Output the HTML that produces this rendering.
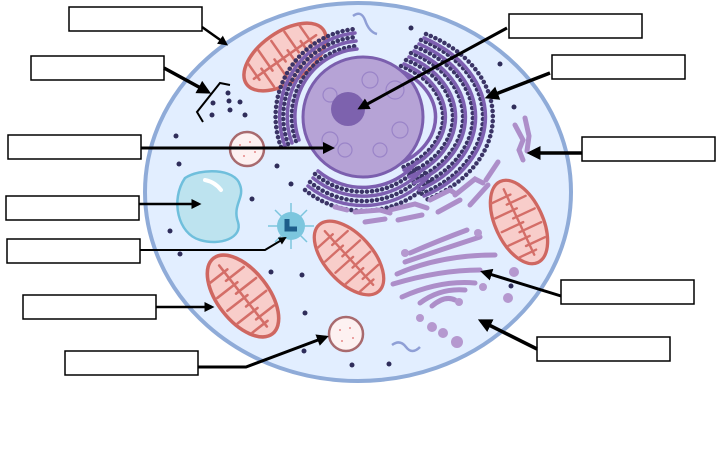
<!DOCTYPE html>
<html><head><meta charset="utf-8"><style>html,body{margin:0;padding:0;background:#fff;width:720px;height:465px;overflow:hidden}</style></head>
<body>
<svg width="720" height="465" viewBox="0 0 720 465" xmlns="http://www.w3.org/2000/svg">
<defs>
<g id="mito">
<ellipse cx="0" cy="0" rx="25" ry="47" fill="#f8cdca" stroke="#cf6761" stroke-width="3.5"/>
<g stroke="#d46e68" stroke-width="2.5" fill="none" stroke-linecap="round">
<path d="M-18,-30 L4,-30 M18,-22 L-4,-22 M-21,-14 L4,-14 M21,-6 L-4,-6 M-21,2 L4,2 M21,10 L-4,10 M-21,18 L4,18 M18,26 L-4,26 M-15,34 L4,34 M0,-38 L0,38"/>
</g>
</g>
<marker id="ah" markerWidth="4" markerHeight="4" refX="3" refY="2" orient="auto" markerUnits="strokeWidth"><path d="M0,0 L4,2 L0,4 z" fill="#000"/></marker>
</defs>
<ellipse cx="358" cy="192" rx="213" ry="189" fill="#e2eeff" stroke="#8fabd8" stroke-width="4"/>
<g fill="#2f2d5a">
<circle cx="411" cy="28" r="2.5"/><circle cx="500" cy="64" r="2.5"/><circle cx="514" cy="107" r="2.5"/><circle cx="176" cy="136" r="2.5"/><circle cx="179" cy="164" r="2.5"/><circle cx="277" cy="166" r="2.5"/><circle cx="291" cy="184" r="2.5"/><circle cx="252" cy="199" r="2.5"/><circle cx="170" cy="231" r="2.5"/><circle cx="180" cy="254" r="2.5"/><circle cx="271" cy="272" r="2.5"/><circle cx="302" cy="275" r="2.5"/><circle cx="305" cy="313" r="2.5"/><circle cx="304" cy="351" r="2.5"/><circle cx="352" cy="365" r="2.5"/><circle cx="389" cy="364" r="2.5"/><circle cx="511" cy="286" r="2.5"/>
<circle cx="213" cy="103" r="2.5"/><circle cx="229" cy="101" r="2.5"/><circle cx="240" cy="102" r="2.5"/><circle cx="228" cy="93" r="2.5"/><circle cx="212" cy="115" r="2.5"/><circle cx="245" cy="115" r="2.5"/><circle cx="230" cy="110" r="2.5"/>
</g>
<path d="M353,16 q8,-6 12,4 q4,12 12,14" stroke="#8f9fd6" stroke-width="2.5" fill="none"/>
<path d="M392,345 q8,-6 14,2 q6,8 14,0" stroke="#8f9fd6" stroke-width="2.5" fill="none"/>
<use href="#mito" transform="translate(285,57) rotate(55)"/>
<use href="#mito" transform="translate(519,222) rotate(-25) scale(0.95)"/>
<use href="#mito" transform="translate(349,258) rotate(-42) scale(0.95)"/>
<use href="#mito" transform="translate(243,296) rotate(-38) scale(1.02)"/>
<!-- rough ER -->
<g fill="none" stroke-linecap="round">
<g stroke="#3b3466" stroke-width="4.5" stroke-dasharray="0.1 5">
<path d="M401,66 A76,57 0 0 1 401,168"/><path d="M406,60 A86,64 0 0 1 406,174"/><path d="M411,53 A96,72 0 0 1 411,181"/><path d="M416,47 A106,79 0 0 1 416,187"/><path d="M421,40 A116,87 0 0 1 421,194"/><path d="M426,34 A126,94 0 0 1 426,200"/>
<path d="M296,141 A71,71 0 0 1 357,46"/><path d="M288,144 A80,80 0 0 1 356,37"/><path d="M281,147 A88,88 0 0 1 355,29"/>
<path d="M315,174 A74,74 0 0 0 420,165"/><path d="M310,182 A83,83 0 0 0 426,172"/><path d="M305,190 A92,92 0 0 0 432,180"/>
</g>
<g stroke="#7d5fb0" stroke-width="3.5">
<path d="M399,70 A72,54 0 0 1 399,164"/><path d="M404,64 A82,61 0 0 1 404,170"/><path d="M409,57 A92,69 0 0 1 409,177"/><path d="M414,51 A102,76 0 0 1 414,183"/><path d="M419,44 A112,84 0 0 1 419,190"/><path d="M424,38 A122,91 0 0 1 424,196"/>
<path d="M299,140 A68,68 0 0 1 357,49"/><path d="M292,143 A76,76 0 0 1 356,41"/><path d="M285,146 A84,84 0 0 1 355,33"/>
<path d="M318,171 A70,70 0 0 0 417,162"/><path d="M313,178 A79,79 0 0 0 423,169"/><path d="M308,186 A88,88 0 0 0 429,176"/>
</g>
</g>
<circle cx="363" cy="117" r="60" fill="#b6a3d6" stroke="#7b5fae" stroke-width="3"/>
<g fill="none" stroke="#9a84c8" stroke-width="1.2">
<circle cx="330" cy="140" r="8"/><circle cx="345" cy="150" r="7"/><circle cx="395" cy="90" r="9"/><circle cx="400" cy="130" r="8"/><circle cx="380" cy="150" r="7"/><circle cx="330" cy="95" r="7"/><circle cx="370" cy="80" r="8"/>
</g>
<circle cx="348" cy="109" r="17" fill="#7d62ae"/>
<g fill="none" stroke="#ad8ec9" stroke-width="5" stroke-linecap="round">
<path d="M335,207 l12,3"/><path d="M355,212 l25,-2 l10,3"/><path d="M365,222 l20,-3"/><path d="M390,210 l25,-6 l12,4"/><path d="M398,220 l24,-5"/><path d="M430,200 l20,-10 l6,4"/><path d="M438,212 l22,-12"/><path d="M455,195 l20,-16 l8,4"/><path d="M470,205 l18,-20"/><path d="M486,180 l12,-18"/>
<path d="M515,125 l8,15 l-4,10 l4,10"/><path d="M525,118 l4,18 l-2,15"/>
<path d="M397,274 Q440,255 495,255"/><path d="M405,262 Q440,250 480,237"/><path d="M393,284 Q440,270 480,270"/><path d="M402,297 Q440,280 475,283"/><path d="M420,303 Q440,288 465,290"/><path d="M432,306 Q445,295 455,300"/><path d="M410,253 Q440,240 467,230"/>
</g>
<g fill="#b598cf">
<circle cx="478" cy="233" r="4"/><circle cx="514" cy="272" r="5"/><circle cx="508" cy="298" r="5"/><circle cx="420" cy="318" r="4"/><circle cx="432" cy="327" r="5"/><circle cx="443" cy="333" r="5"/><circle cx="457" cy="342" r="6"/><circle cx="483" cy="287" r="4"/><circle cx="405" cy="253" r="4"/><circle cx="459" cy="302" r="4"/>
</g>
<circle cx="247" cy="149" r="17" fill="#fdf1f1" stroke="#a86a6e" stroke-width="2.5"/>
<circle cx="346" cy="334" r="17" fill="#fdf1f1" stroke="#a86a6e" stroke-width="2.5"/>
<g fill="#e58a8a"><circle cx="240" cy="145" r="1"/><circle cx="250" cy="142" r="1"/><circle cx="255" cy="152" r="1"/><circle cx="244" cy="156" r="1"/><circle cx="340" cy="330" r="1"/><circle cx="350" cy="328" r="1"/><circle cx="353" cy="338" r="1"/><circle cx="342" cy="341" r="1"/></g>
<path d="M185,178 C200,168 235,168 240,185 C245,198 232,205 238,222 C243,238 220,246 200,240 C178,234 170,200 185,178 z" fill="#bde3ef" stroke="#6fbfdc" stroke-width="2.5"/>
<path d="M205,180 q10,2 16,10" stroke="#fff" stroke-width="4" fill="none" stroke-linecap="round"/>
<g stroke="#7cc6de" stroke-width="1.5"><path d="M291,203 v46 M268,226 h46 M275,210 l32,32 M307,210 l-32,32"/></g>
<circle cx="291" cy="226" r="14" fill="#7cc6de"/>
<path d="M287,219 v10 h10" stroke="#1d5d8a" stroke-width="5" fill="none"/>
<path d="M230,85 L220,83 L197,112 L203,122" stroke="#000" stroke-width="2" fill="none"/>
<g fill="#fff" stroke="#000" stroke-width="1.5">
<rect x="69" y="7" width="133" height="24"/><rect x="31" y="56" width="133" height="24"/><rect x="8" y="135" width="133" height="24"/><rect x="6" y="196" width="133" height="24"/><rect x="7" y="239" width="133" height="24"/><rect x="23" y="295" width="133" height="24"/><rect x="65" y="351" width="133" height="24"/>
<rect x="509" y="14" width="133" height="24"/><rect x="552" y="55" width="133" height="24"/><rect x="582" y="137" width="133" height="24"/><rect x="561" y="280" width="133" height="24"/><rect x="537" y="337" width="133" height="24"/>
</g>
<g stroke="#000" stroke-width="3" fill="none" marker-end="url(#ah)">
<path d="M202,27 L226,44" stroke-width="2.5"/>
<path d="M164,68 L208,92" stroke-width="3.5"/>
<path d="M141,148 L332,148"/>
<path d="M139,204 L199,204" stroke-width="2.5"/>
<path d="M140,250 L265,250 L285,238" stroke-width="2"/>
<path d="M156,307 L212,307" stroke-width="2.5"/>
<path d="M198,367 L246,367 L326,337"/>
<path d="M507,28 L360,108"/>
<path d="M550,73 L488,97" stroke-width="3.5"/>
<path d="M582,153 L530,153" stroke-width="3.5"/>
<path d="M561,296 L483,272"/>
<path d="M537,349 L481,321" stroke-width="3.5"/>
</g>
</svg>
</body></html>
